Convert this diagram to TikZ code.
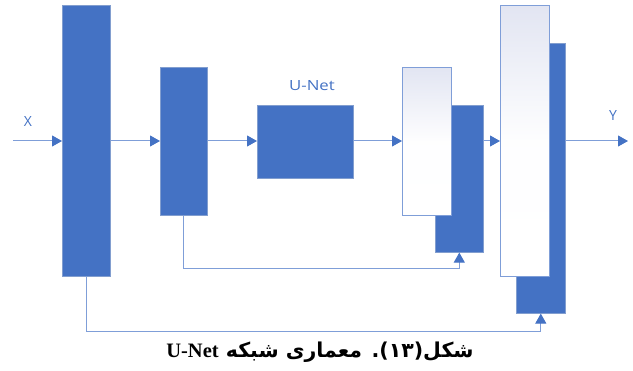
\documentclass[tikz,border=0pt]{standalone}
\usepackage{fontspec}
\setmainfont{Liberation Serif}
\newfontfamily\labfont{Open Sans}
\newfontfamily\arabicfont[Script=Arabic]{DejaVu Sans}
\TeXXeTstate=1
\usetikzlibrary{arrows.meta}
\definecolor{bblue}{HTML}{4472C4}
\definecolor{lblue}{HTML}{7F9ED8}
\definecolor{wtop}{HTML}{E2E5F2}
\tikzset{
  blk/.style={rectangle, inner sep=0pt, anchor=north west, fill=bblue, draw=bblue!85!gray!70, line width=0.6pt},
  wblk/.style={rectangle, inner sep=0pt, anchor=north west, top color=wtop, bottom color=white, middle color=white!96!wtop, draw=lblue, line width=1pt},
  conn/.style={draw=lblue, line width=1pt, -{Triangle[length=10pt,width=11pt,color=bblue,fill=bblue]}},
  lab/.style={text=bblue, font=\labfont\fontsize{14}{16}\selectfont, inner sep=0pt}
}
\begin{document}
\begin{tikzpicture}[x=1pt,y=-1pt]
\useasboundingbox (0,0) rectangle (633,371);
% blocks
\node[blk, minimum width=48pt, minimum height=271pt] (b1) at (62,5) {};
\node[blk, minimum width=47pt, minimum height=148pt] (b2) at (160,67) {};
\node[blk, minimum width=96pt, minimum height=73pt] (un) at (257,105) {};
\node[blk, minimum width=48pt, minimum height=147pt] (k4) at (435,105) {};
\node[wblk, minimum width=49pt, minimum height=148pt] (w4) at (402,67) {};
\node[blk, minimum width=49pt, minimum height=270pt] (k5) at (516,43) {};
\node[wblk, minimum width=49pt, minimum height=271pt] (w5) at (500,5) {};
% labels
\node[lab] (xl) at (28,122) {X};
\node[lab] (yl) at (613,116) {Y};
\node[lab] (ul) at (312,86) {\scalebox{1.2}[1]{U-Net}};
% coordinates
\coordinate (xin) at (13,141);
\coordinate (yout) at (628,141);
\coordinate (row) at (0,141);
% main arrows
\draw[conn] (xin) -- (xin -| b1.west);
\draw[conn] (row -| b1.east) -- (row -| b2.west);
\draw[conn] (row -| b2.east) -- (row -| un.west);
\draw[conn] (row -| un.east) -- (row -| w4.west);
\draw[conn] (row -| k4.east) -- (row -| w5.west);
\draw[conn] (row -| k5.east) -- (yout);
% skip connections
\coordinate (s1) at (0,269);
\coordinate (s2) at (0,332);
\draw[conn] (b2.south) -- (b2.south |- s1) -- (k4.south |- s1) -- (k4.south);
\draw[conn] (b1.south) -- (b1.south |- s2) -- (k5.south |- s2) -- (k5.south);
% caption
\node[inner sep=0pt] (cap) at (320,352) {\fontsize{20.5}{24}\selectfont\bfseries\arabicfont\beginR شکل(۱۳). معماری شبکه \beginL{\rmfamily U-Net}\endL\endR};
\end{tikzpicture}
\end{document}
